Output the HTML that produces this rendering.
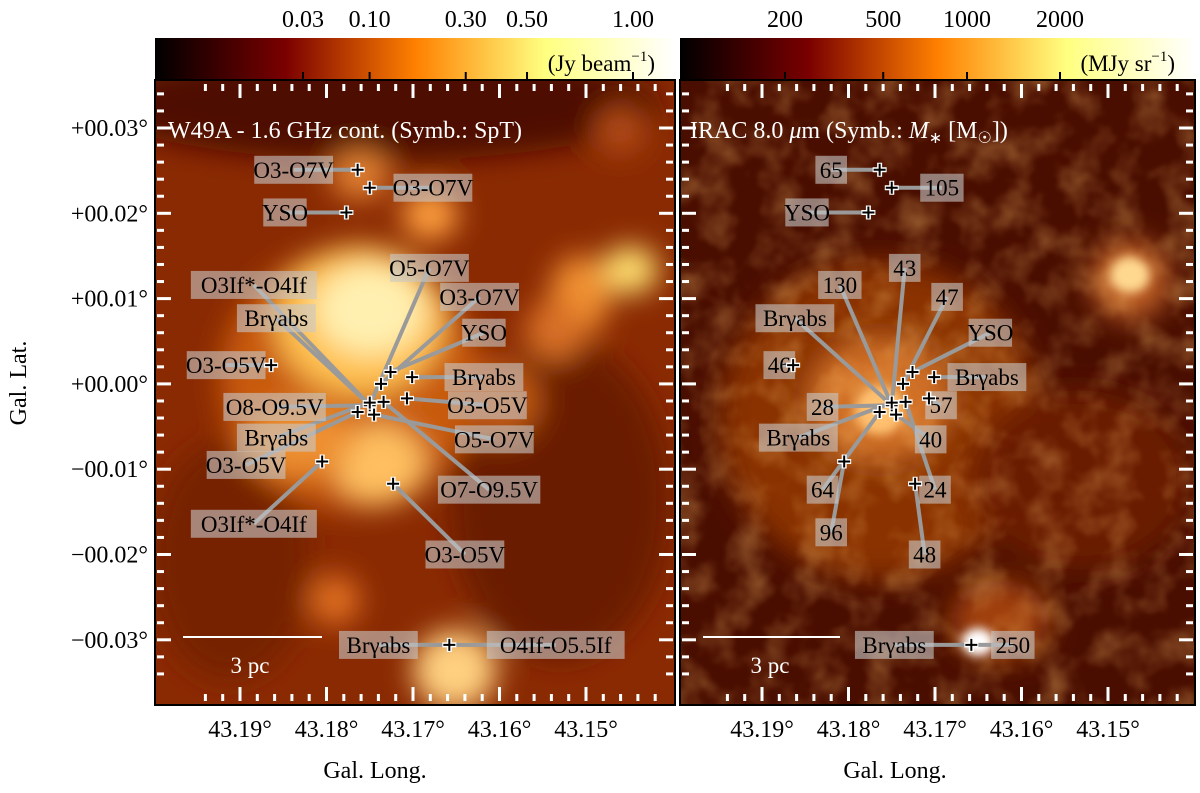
<!DOCTYPE html>
<html><head><meta charset="utf-8"><style>
body{margin:0;background:#fff;width:1200px;height:788px;overflow:hidden}
svg text{font-family:"Liberation Serif",serif}
</style></head><body>
<svg id="fig" width="1200" height="788" viewBox="0 0 1200 788">
<defs>
<linearGradient id="cbL" x1="0" x2="1"><stop offset="0" stop-color="#000"/><stop offset="0.25" stop-color="#7a0000"/><stop offset="0.5" stop-color="#ff8000"/><stop offset="0.75" stop-color="#ffff80"/><stop offset="1" stop-color="#fff"/></linearGradient>
<linearGradient id="cbR" x1="0" x2="1"><stop offset="0" stop-color="#000"/><stop offset="0.25" stop-color="#7a0000"/><stop offset="0.5" stop-color="#ff8000"/><stop offset="0.75" stop-color="#ffff80"/><stop offset="1" stop-color="#fff"/></linearGradient>
<filter id="blur" x="-20%" y="-20%" width="140%" height="140%"><feGaussianBlur stdDeviation="14"/></filter>
<filter id="blur2"><feGaussianBlur stdDeviation="5"/></filter>
<filter id="tex"><feTurbulence type="fractalNoise" baseFrequency="0.03" numOctaves="3" seed="4"/><feColorMatrix values="0 0 0 0 1  0 0 0 0 0.55  0 0 0 0 0.15  0 0 0 -1.6 0.95"/><feGaussianBlur stdDeviation="1.5"/></filter>
<clipPath id="cpL"><rect x="155" y="80" width="520" height="625"/></clipPath>
<clipPath id="cpR"><rect x="680" y="80" width="515" height="625"/></clipPath>
</defs>

<rect x="155" y="38" width="520" height="42" fill="url(#cbL)"/>
<rect x="680" y="38" width="515" height="42" fill="url(#cbR)"/>
<text x="655" y="71" font-size="23" text-anchor="end">(Jy beam<tspan dy="-10" font-size="15">−1</tspan><tspan dy="10">)</tspan></text>
<text x="1175" y="71" font-size="23" text-anchor="end">(MJy sr<tspan dy="-10" font-size="15">−1</tspan><tspan dy="10">)</tspan></text>
<g id="cbticks"></g>

<g clip-path="url(#cpL)">
<rect x="155" y="80" width="520" height="625" fill="#8a2a02"/>
<g filter="url(#blur)">
<ellipse cx="380" cy="105" rx="280" ry="55" fill="#4e0c00"/>
<ellipse cx="560" cy="500" rx="110" ry="160" fill="#6a1a00"/>
<ellipse cx="230" cy="560" rx="80" ry="120" fill="#762000"/>
<ellipse cx="350" cy="380" rx="130" ry="130" fill="#c85a10"/>
<ellipse cx="360" cy="320" rx="85" ry="75" fill="#ffc050"/>
<ellipse cx="370" cy="310" rx="55" ry="45" fill="#fff0b0"/>
<ellipse cx="380" cy="465" rx="45" ry="40" fill="#ffc060"/>
<ellipse cx="300" cy="440" rx="55" ry="35" fill="#ee9030"/>
<ellipse cx="630" cy="270" rx="28" ry="24" fill="#ffe070"/>
<ellipse cx="580" cy="295" rx="30" ry="40" fill="#f09030"/>
<ellipse cx="430" cy="215" rx="28" ry="25" fill="#ffa040"/>
<ellipse cx="360" cy="175" rx="30" ry="25" fill="#e08030"/>
<ellipse cx="455" cy="670" rx="42" ry="40" fill="#ffd080"/>
<ellipse cx="335" cy="600" rx="25" ry="25" fill="#e07020"/>
<ellipse cx="555" cy="330" rx="30" ry="30" fill="#d87028"/>
<ellipse cx="620" cy="130" rx="25" ry="25" fill="#b04a18"/>
<ellipse cx="500" cy="400" rx="40" ry="40" fill="#c05a18"/>
</g>
</g>

<g clip-path="url(#cpR)">
<rect x="680" y="80" width="515" height="625" fill="#4a0e00"/>
<g filter="url(#blur)">
<ellipse cx="880" cy="420" rx="160" ry="160" fill="#8a3006"/>
<ellipse cx="880" cy="400" rx="70" ry="60" fill="#d07028"/>
<ellipse cx="1000" cy="620" rx="50" ry="40" fill="#a04010"/>
<ellipse cx="1130" cy="280" rx="40" ry="40" fill="#c06028"/>
<ellipse cx="1080" cy="480" rx="110" ry="90" fill="#6a1c00"/>
</g>
<rect x="680" y="80" width="515" height="625" filter="url(#tex)" opacity="0.45"/>
<g filter="url(#blur2)">
<ellipse cx="1130" cy="275" rx="20" ry="18" fill="#ffd890"/>
<ellipse cx="978" cy="642" rx="16" ry="14" fill="#fff"/>
<ellipse cx="880" cy="410" rx="25" ry="25" fill="#ffc070"/>
</g>
</g>

<rect x="155" y="80" width="520" height="625" fill="none" stroke="#000" stroke-width="2"/>
<rect x="680" y="80" width="515" height="625" fill="none" stroke="#000" stroke-width="2"/>
<g id="ticks"></g>

<text x="168" y="138" font-size="24" fill="#fff">W49A - 1.6 GHz cont. (Symb.: SpT)</text>
<text x="690" y="138" font-size="24" fill="#fff">IRAC 8.0 <tspan font-style="italic">μ</tspan>m (Symb.: <tspan font-style="italic">M</tspan><tspan font-size="16" dy="5">∗</tspan><tspan dy="-5"> [M</tspan><tspan font-size="16" dy="5">☉</tspan><tspan dy="-5">])</tspan></text>

<line x1="183" y1="637" x2="322" y2="637" stroke="#fff" stroke-width="2"/>
<text x="250" y="673" font-size="23" fill="#fff" text-anchor="middle">3 pc</text>
<line x1="703" y1="637" x2="840" y2="637" stroke="#fff" stroke-width="2"/>
<text x="770" y="673" font-size="23" fill="#fff" text-anchor="middle">3 pc</text>

<text transform="translate(26,383) rotate(-90)" font-size="24" text-anchor="middle">Gal. Lat.</text>
<text x="375" y="778" font-size="24" text-anchor="middle">Gal. Long.</text>
<text x="895" y="778" font-size="24" text-anchor="middle">Gal. Long.</text>
<g id="axlabels"></g>
<g id="ann"></g>
</svg>
<script>
const NS="http://www.w3.org/2000/svg";
const latTicks=[0.03,0.02,0.01,0.00,-0.01,-0.02,-0.03];
const latLabels=["+00.03°","+00.02°","+00.01°","+00.00°","−00.01°","−00.02°","−00.03°"];
const lonTicks=[43.19,43.18,43.17,43.16,43.15];
const lonLabels=["43.19°","43.18°","43.17°","43.16°","43.15°"];
const cbLeftVals=[0.03,0.10,0.30,0.50,1.00];
const cbLeftLabels=["0.03","0.10","0.30","0.50","1.00"];
const cbRightVals=[200,500,1000,2000];
const cbRightLabels=["200","500","1000","2000"];
const srcLon=[43.1764,43.1750,43.1777,43.1864,43.1750,43.1764,43.1750,43.1737,43.1726,43.1701,43.1734,43.1707,43.1745,43.1805,43.1723,43.1658];
const srcLat=[0.0251,0.0230,0.0201,0.0022,-0.0025,-0.0033,-0.0022,0.0000,0.0014,0.0008,-0.0021,-0.0017,-0.0036,-0.0091,-0.0117,-0.0306];
const labLonL=[43.1838,43.1677,43.1848,43.1681,43.1884,43.1623,43.1858,43.1618,43.1916,43.1618,43.1860,43.1614,43.1858,43.1606,43.1893,43.1884,43.1612,43.1640,43.1740,43.1535];
const labLatL=[0.0251,0.0230,0.0201,0.0136,0.0116,0.0102,0.0077,0.0060,0.0022,0.0008,-0.0027,-0.0025,-0.0063,-0.0065,-0.0095,-0.0164,-0.0124,-0.0200,-0.0306,-0.0306];
const labTextL=["O3-O7V","O3-O7V","YSO","O5-O7V","O3If*-O4If","O3-O7V","Brγabs","YSO","O3-O5V","Brγabs","O8-O9.5V","O3-O5V","Brγabs","O5-O7V","O3-O5V","O3If*-O4If","O7-O9.5V","O3-O5V","Brγabs","O4If-O5.5If"];
const labTextR=["65","105","YSO","43","130","47","Brγabs","YSO","46","Brγabs","28","57","Brγabs","40","64","96","24","48","Brγabs","250"];
const labLonR=[43.1820,43.1692,43.1848,43.1735,43.1810,43.1686,43.1862,43.1636,43.1880,43.1640,43.1830,43.1693,43.1858,43.1705,43.1830,43.1820,43.1700,43.1712,43.1747,43.1610];
const labLatR=[0.0251,0.0230,0.0201,0.0136,0.0116,0.0102,0.0077,0.0060,0.0022,0.0008,-0.0027,-0.0025,-0.0063,-0.0065,-0.0124,-0.0174,-0.0124,-0.0200,-0.0306,-0.0306];
const labTarget=[0,1,2,4,4,7,4,8,3,9,4,11,6,12,5,13,10,14,15,15];

function xL(lon){return 240+(43.19-lon)/0.01*86.5;}
function yS(lat){return 128+(0.03-lat)/0.01*85.3;}
const OFF=522;
function el(t,a,p){const e=document.createElementNS(NS,t);for(const k in a)e.setAttribute(k,a[k]);p.appendChild(e);return e;}
const ax=document.getElementById('axlabels'), tk=document.getElementById('ticks'), cb=document.getElementById('cbticks');
latTicks.forEach((v,i)=>{const t=el('text',{x:148,y:yS(v)+8,'font-size':24,'text-anchor':'end'},ax);t.textContent=latLabels[i];

});
[0,OFF].forEach(o=>lonTicks.forEach((v,i)=>{const t=el('text',{x:xL(v)+o,y:737,'font-size':24,'text-anchor':'middle'},ax);t.textContent=lonLabels[i];

}));
[[155,675],[680,1195]].forEach(([a,b],pi)=>{
 const o=pi?OFF:0;
 for(let v=43.194;v>43.138;v-=0.002){const x=xL(v)+o;if(x<a+4||x>b-4)continue;const r=Math.round(v*1000)%10;const maj=r===0;const L=maj?14:7;
  el('line',{x1:x,y1:84,x2:x,y2:84+L,stroke:'#fff','stroke-width':3},tk);el('line',{x1:x,y1:701,x2:x,y2:701-L,stroke:'#fff','stroke-width':3},tk);}
 for(let v=0.036;v>-0.036;v-=0.002){const y=yS(v);if(y<84||y>701)continue;const maj=Math.abs(Math.round(v*1000)%10)===0;const L=maj?14:7;
  el('line',{x1:a+2,y1:y,x2:a+2+L,y2:y,stroke:'#fff','stroke-width':3},tk);el('line',{x1:b-2,y1:y,x2:b-2-L,y2:y,stroke:'#fff','stroke-width':3},tk);}
});
function cbxL(v){const f=x=>Math.pow(x,0.4);return 303+(f(v)-f(0.03))/(f(1)-f(0.03))*(633-303);}
function cbxR(v){const f=x=>Math.pow(x,0.15);return 785+(f(v)-f(200))/(f(2000)-f(200))*(1060-785);}
cbLeftVals.forEach((v,i)=>{const x=cbxL(v);el('line',{x1:x,y1:72,x2:x,y2:80,stroke:'#000','stroke-width':2},cb);const t=el('text',{x:x,y:27,'font-size':24,'text-anchor':'middle'},cb);t.textContent=cbLeftLabels[i];

});
cbRightVals.forEach((v,i)=>{const x=cbxR(v);el('line',{x1:x,y1:72,x2:x,y2:80,stroke:'#000','stroke-width':2},cb);const t=el('text',{x:x,y:27,'font-size':24,'text-anchor':'middle'},cb);t.textContent=cbRightLabels[i];

});
const an=document.getElementById('ann');
function drawPanel(o,labLon,labLat,labText,side){
 const lines=el('g',{},an),boxes=el('g',{},an),marks=el('g',{},an);
 labText.forEach((s,i)=>{const lx=xL(labLon[i])+o,ly=yS(labLat[i]);const j=labTarget[i];const sx=xL(srcLon[j])+o,sy=yS(srcLat[j]);
  const ln=el('line',{x1:lx,y1:ly,x2:sx,y2:sy,stroke:'#9a9a9a','stroke-width':4},lines);
  
  
  const w=s.length*11.8+8;
  const r=el('rect',{x:lx-w/2,y:ly-14,width:w,height:28,fill:'rgba(200,200,200,0.6)'},boxes);
  
  
  const t=el('text',{x:lx,y:ly+8,'font-size':23,'text-anchor':'middle',fill:'#000'},boxes);t.textContent=s;
  
  });
 srcLon.forEach((v,i)=>{const x=xL(v)+o,y=yS(srcLat[i]);const g=el('g',{},marks);
  
  
  el('path',{d:`M${x-7} ${y}H${x+7}M${x} ${y-7}V${y+7}`,stroke:'#fff','stroke-width':5},g);
  el('path',{d:`M${x-6} ${y}H${x+6}M${x} ${y-6}V${y+6}`,stroke:'#000','stroke-width':2},g);});
}
drawPanel(0,labLonL,labLatL,labTextL,'left');
drawPanel(OFF,labLonR,labLatR,labTextR,'right');
</script>
</body></html>
